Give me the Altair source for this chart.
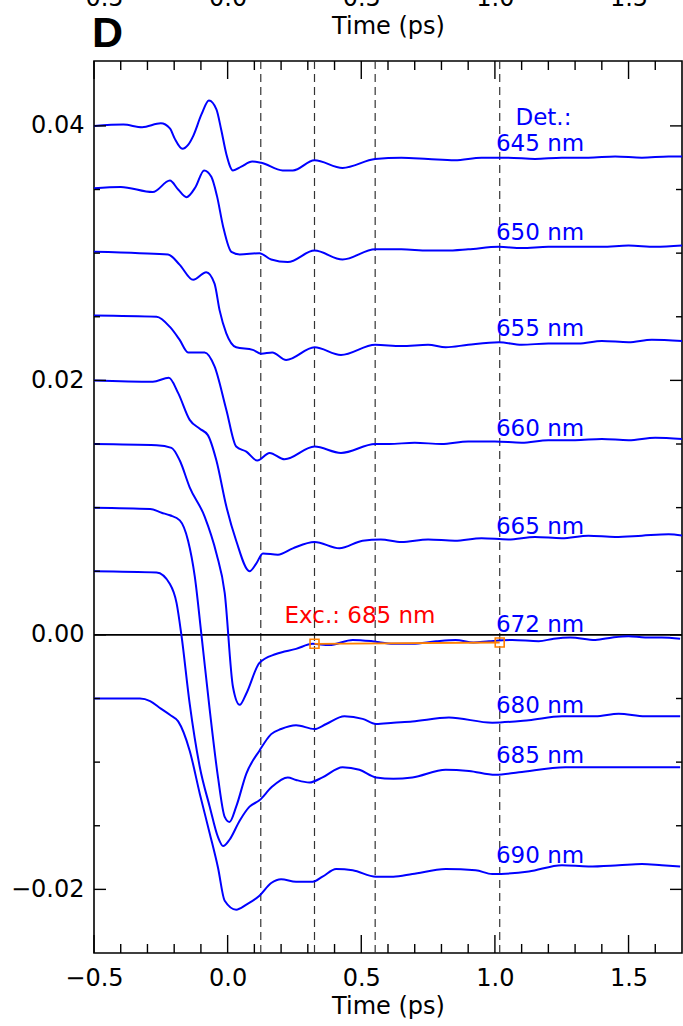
import altair as alt
import pandas as pd

# ---------------- data (time in ps, signal) ----------------
t_645 = [-0.50, -0.39, -0.32, -0.25, -0.216, -0.198, -0.169, -0.148, -0.129, -0.098, -0.07, -0.042, -0.024,
         -0.005, 0.02, 0.051, 0.092, 0.126, 0.206, 0.244, 0.325, 0.43, 0.552, 0.65, 0.75, 0.85, 0.95, 1.05,
         1.15, 1.25, 1.35, 1.45, 1.55, 1.65, 1.7]
v_645 = [0.0400, 0.0401, 0.0399, 0.0402, 0.0398, 0.0390, 0.0382, 0.0385, 0.0392, 0.0409, 0.0420, 0.0413, 0.0397,
         0.0378, 0.0365, 0.0368, 0.0372, 0.0371, 0.0365, 0.0365, 0.0373, 0.0367, 0.0374, 0.0375, 0.0374, 0.0373,
         0.0375, 0.0375, 0.0374, 0.0375, 0.0375, 0.0376, 0.0375, 0.0376, 0.0376]

t_650 = [-0.50, -0.40, -0.28, -0.216, -0.185, -0.154, -0.12, -0.088, -0.061, -0.04, -0.017, 0.014, 0.045,
         0.119, 0.163, 0.225, 0.325, 0.43, 0.552, 0.65, 0.75, 0.816, 0.90, 1.015, 1.1, 1.2, 1.313, 1.4, 1.5,
         1.6, 1.7]
v_650 = [0.0351, 0.0352, 0.0348, 0.0357, 0.0350, 0.0344, 0.0352, 0.0365, 0.0360, 0.0345, 0.0321, 0.0301, 0.0299,
         0.0300, 0.0295, 0.0293, 0.0302, 0.0295, 0.0303, 0.0303, 0.0302, 0.0302, 0.0303, 0.0305, 0.0304, 0.0305,
         0.0305, 0.0305, 0.0306, 0.0305, 0.0306]

t_655 = [-0.50, -0.33, -0.223, -0.18, -0.129, -0.08, -0.049, -0.03, -0.005, 0.032, 0.094, 0.126, 0.167, 0.219,
         0.325, 0.424, 0.552, 0.65, 0.75, 0.816, 0.9, 1.015, 1.1, 1.2, 1.313, 1.4, 1.5, 1.587, 1.7]
v_655 = [0.0301, 0.0300, 0.0299, 0.0291, 0.0279, 0.0285, 0.0276, 0.0255, 0.0237, 0.0226, 0.0224, 0.0221, 0.0222,
         0.0216, 0.0226, 0.0220, 0.0228, 0.0227, 0.0228, 0.0226, 0.0228, 0.0230, 0.0228, 0.0229, 0.0229, 0.0231,
         0.0230, 0.0232, 0.0231]

t_660 = [-0.50, -0.266, -0.216, -0.18, -0.148, -0.086, -0.049, -0.005, 0.032, 0.07, 0.111, 0.157, 0.213, 0.325,
         0.424, 0.552, 0.604, 0.7, 0.8, 0.9, 1.0, 1.1, 1.2, 1.3, 1.4, 1.5, 1.6, 1.7]
v_660 = [0.0251, 0.0250, 0.0242, 0.0232, 0.0222, 0.0222, 0.0211, 0.0177, 0.0148, 0.0144, 0.0137, 0.0143, 0.0138,
         0.0148, 0.0143, 0.0150, 0.0150, 0.0151, 0.0150, 0.0152, 0.0152, 0.0151, 0.0153, 0.0153, 0.0154, 0.0153,
         0.0155, 0.0154]

t_665 = [-0.50, -0.28, -0.22, -0.185, -0.142, -0.104, -0.074, -0.042, -0.005, 0.032, 0.082, 0.107, 0.132, 0.188,
         0.244, 0.325, 0.418, 0.505, 0.573, 0.65, 0.75, 0.85, 0.95, 1.05, 1.15, 1.25, 1.35, 1.45, 1.55, 1.65, 1.7]
v_665 = [0.0200, 0.0199, 0.0202, 0.0190, 0.0169, 0.0162, 0.0157, 0.0137, 0.0101, 0.0074, 0.0050, 0.0056, 0.0064,
         0.0063, 0.0068, 0.0073, 0.0068, 0.0074, 0.0075, 0.0073, 0.0075, 0.0074, 0.0076, 0.0075, 0.0077, 0.0076,
         0.0078, 0.0077, 0.0078, 0.0079, 0.0078]

t_672 = [-0.50, -0.266, -0.21, -0.179, -0.142, -0.086, -0.042, -0.011, 0.02, 0.045, 0.07, 0.119, 0.181, 0.256,
         0.318, 0.38, 0.468, 0.542, 0.62, 0.691, 0.78, 0.853, 0.92, 0.978, 1.065, 1.164, 1.22, 1.282, 1.376,
         1.44, 1.5, 1.562, 1.624, 1.693]
v_672 = [0.0150, 0.0149, 0.0147, 0.0137, 0.0116, 0.0093, 0.0064, 0.0033, -0.0041, -0.0055, -0.0046, -0.0022,
         -0.0015, -0.0011, -0.0007, -0.0008, -0.0004, -0.0005, -0.0007, -0.0007, -0.0005, -0.0004, -0.0006,
         -0.0005, -0.0004, -0.0005, -0.0003, -0.0002, -0.0004, -0.0002, -0.0001, -0.0002, -0.0002, -0.0003]

t_680 = [-0.50, -0.29, -0.247, -0.216, -0.179, -0.148, -0.123, -0.098, -0.067, -0.036, -0.011, 0.007, 0.032,
         0.07, 0.119, 0.163, 0.20, 0.256, 0.325, 0.369, 0.437, 0.505, 0.555, 0.62, 0.691, 0.828, 0.99, 1.127,
         1.251, 1.376, 1.463, 1.562, 1.693]
v_680 = [0.0100, 0.0099, 0.0096, 0.0094, 0.0090, 0.0074, 0.0046, 0.0000, -0.0059, -0.0112, -0.0143, -0.0147,
         -0.0135, -0.0109, -0.0091, -0.0078, -0.0074, -0.0071, -0.0074, -0.0070, -0.0064, -0.0066, -0.0070,
         -0.0069, -0.0068, -0.0065, -0.0069, -0.0067, -0.0064, -0.0064, -0.0062, -0.0064, -0.0064]

t_685 = [-0.50, -0.266, -0.216, -0.191, -0.173, -0.142, -0.104, -0.067, -0.036, -0.017, 0.007, 0.045, 0.082,
         0.119, 0.163, 0.225, 0.256, 0.306, 0.355, 0.43, 0.493, 0.555, 0.62, 0.691, 0.816, 0.903, 1.002, 1.09,
         1.264, 1.438, 1.562, 1.693]
v_685 = [0.0050, 0.0049, 0.0040, 0.0025, 0.0000, -0.0054, -0.0104, -0.0135, -0.0159, -0.0166, -0.0161, -0.0146,
         -0.0135, -0.0130, -0.0120, -0.0112, -0.0114, -0.0116, -0.0112, -0.0104, -0.0106, -0.0112, -0.0113,
         -0.0112, -0.0106, -0.0107, -0.0110, -0.0108, -0.0104, -0.0104, -0.0104, -0.0104]

t_690 = [-0.50, -0.328, -0.29, -0.25, -0.215, -0.185, -0.142, -0.104, -0.067, -0.036, -0.011, 0.032, 0.07, 0.119,
         0.163, 0.20, 0.256, 0.318, 0.355, 0.406, 0.468, 0.555, 0.62, 0.691, 0.816, 0.928, 0.99, 1.127, 1.251,
         1.35, 1.463, 1.55, 1.624, 1.693]
v_690 = [-0.0050, -0.0050, -0.0052, -0.0058, -0.0063, -0.0068, -0.0091, -0.0125, -0.0156, -0.0183, -0.0209,
         -0.0216, -0.0212, -0.0205, -0.0195, -0.0192, -0.0194, -0.0194, -0.0190, -0.0184, -0.0185, -0.0190,
         -0.0190, -0.0188, -0.0184, -0.0185, -0.0188, -0.0186, -0.0181, -0.0182, -0.0181, -0.0180, -0.0181,
         -0.0182]

series_names = ["645 nm", "650 nm", "655 nm", "660 nm", "665 nm", "672 nm", "680 nm", "685 nm", "690 nm"]
series_t = [t_645, t_650, t_655, t_660, t_665, t_672, t_680, t_685, t_690]
series_v = [v_645, v_650, v_655, v_660, v_665, v_672, v_680, v_685, v_690]

# label anchors (data coordinates)
label_t = [1.004] * 9
label_v = [0.0386, 0.0316, 0.0240, 0.0162, 0.0085, 0.0008, -0.0056, -0.0095, -0.0174]
det_text, det_t, det_v = "Det.:", 1.077, 0.0406
exc_text, exc_t_lbl, exc_v_lbl = "Exc.: 685 nm", 0.213, 0.0015

# excitation segment (orange)
exc_t = [0.325, 1.018]
exc_v = [-0.0007, -0.0006]

# dashed guide times
dash_t = [0.124, 0.325, 0.552, 1.018]

# ticks
x_major = [-0.5, 0.0, 0.5, 1.0, 1.5]
x_minor = [-0.4, -0.3, -0.2, -0.1, 0.1, 0.2, 0.3, 0.4, 0.6, 0.7, 0.8, 0.9, 1.1, 1.2, 1.3, 1.4, 1.6]
y_major = [-0.02, 0.0, 0.02, 0.04]
y_minor = [-0.015, -0.01, -0.005, 0.005, 0.01, 0.015, 0.025, 0.03, 0.035]

# ---------------- chart ----------------
rows = []
for name, ts, vs in zip(series_names, series_t, series_v):
    for t, v in zip(ts, vs):
        rows.append({"series": name, "t": t, "v": v})
df = pd.DataFrame(rows)

W, H = 588, 892
FONT = "DejaVu Sans"
BLUE = "#0000FF"
ORANGE = "#FF8000"
xs = alt.Scale(domain=[-0.5, 1.7], nice=False, zero=False)
ys = alt.Scale(domain=[-0.025, 0.0451], nice=False, zero=False)

x_bottom_axis = alt.Axis(orient="bottom", values=x_major, format=".1f", ticks=False, domain=False, grid=False,
                         labelFont=FONT, labelFontSize=24, labelColor="black", labelPadding=13,
                         labelFlush=False, labelOverlap=False,
                         title="Time (ps)", titleFont=FONT, titleFontSize=24, titleFontWeight="normal",
                         titleColor="black", titleY=60, titleBaseline="alphabetic")
y_left_axis = alt.Axis(orient="left", values=y_major, format=".2f", ticks=False, domain=False, grid=False,
                       labelFont=FONT, labelFontSize=24, labelColor="black", labelPadding=10,
                       labelFlush=False, labelOverlap=False, title=None)
x_top_axis = alt.Axis(orient="top", values=x_major, format=".1f", ticks=False, domain=False, grid=False,
                      labelFont=FONT, labelFontSize=24, labelColor="black", labelPadding=51,
                      labelFlush=False, labelOverlap=False,
                      title="Time (ps)", titleFont=FONT, titleFontSize=24, titleFontWeight="normal",
                      titleColor="black", titleY=-28, titleBaseline="alphabetic")

dashes = alt.Chart(pd.DataFrame({"t": dash_t})).mark_rule(
    strokeDash=[8, 5], color="#333333", strokeWidth=1.2
).encode(x=alt.X("t:Q", scale=xs, axis=None))

zero = alt.Chart(pd.DataFrame({"v": [0.0]})).mark_rule(color="black", strokeWidth=1.6).encode(
    y=alt.Y("v:Q", scale=ys, axis=None))

lines = alt.Chart(df).mark_line(color=BLUE, strokeWidth=2, interpolate="monotone", clip=True).encode(
    x=alt.X("t:Q", scale=xs, axis=x_bottom_axis),
    y=alt.Y("v:Q", scale=ys, axis=y_left_axis),
    detail="series:N",
)

exc_df = pd.DataFrame({"t": exc_t, "v": exc_v})
exc_line = alt.Chart(exc_df).mark_line(color=ORANGE, strokeWidth=1.8).encode(
    x=alt.X("t:Q", scale=xs, axis=None), y=alt.Y("v:Q", scale=ys, axis=None))
exc_pts = alt.Chart(exc_df).mark_point(shape="square", filled=False, color=ORANGE, size=80, strokeWidth=1.6,
                                       opacity=1).encode(
    x=alt.X("t:Q", scale=xs, axis=None), y=alt.Y("v:Q", scale=ys, axis=None))

lbl_df = pd.DataFrame({"t": label_t + [det_t], "v": label_v + [det_v], "s": series_names + [det_text]})
labels = alt.Chart(lbl_df).mark_text(font=FONT, fontSize=23, color=BLUE, align="left", baseline="middle").encode(
    x=alt.X("t:Q", scale=xs, axis=None), y=alt.Y("v:Q", scale=ys, axis=None), text="s:N")

exc_lbl = alt.Chart(pd.DataFrame({"t": [exc_t_lbl], "v": [exc_v_lbl], "s": [exc_text]})).mark_text(
    font=FONT, fontSize=23, color="#FF0000", align="left", baseline="middle").encode(
    x=alt.X("t:Q", scale=xs, axis=None), y=alt.Y("v:Q", scale=ys, axis=None), text="s:N")

top_axis = alt.Chart(pd.DataFrame({"t": x_major})).mark_point(opacity=0).encode(
    x=alt.X("t:Q", scale=xs, axis=x_top_axis), y=alt.value(0))


def xticks(values, length):
    d = pd.DataFrame({"t": values})
    bottom = alt.Chart(d).mark_rule(color="black", strokeWidth=1.4).encode(
        x=alt.X("t:Q", scale=xs, axis=None), y=alt.value(H), y2=alt.value(H - length))
    top = alt.Chart(d).mark_rule(color="black", strokeWidth=1.4).encode(
        x=alt.X("t:Q", scale=xs, axis=None), y=alt.value(0), y2=alt.value(length))
    return [bottom, top]


def yticks(values, length):
    d = pd.DataFrame({"v": values})
    left = alt.Chart(d).mark_rule(color="black", strokeWidth=1.4).encode(
        y=alt.Y("v:Q", scale=ys, axis=None), x=alt.value(0), x2=alt.value(length))
    right = alt.Chart(d).mark_rule(color="black", strokeWidth=1.4).encode(
        y=alt.Y("v:Q", scale=ys, axis=None), x=alt.value(W), x2=alt.value(W - length))
    return [left, right]


panel = alt.Chart(pd.DataFrame({"s": ["D"]})).mark_text(
    font="Liberation Sans", fontSize=43, fontWeight="bold", color="black", align="left", baseline="alphabetic"
).encode(text="s:N", x=alt.value(-2), y=alt.value(-14))

ticks = xticks(x_major, 18) + xticks(x_minor, 9) + yticks(y_major, 12) + yticks(y_minor, 6)

chart = alt.layer(
    dashes, zero, lines, exc_line, exc_pts, labels, exc_lbl, top_axis, panel, *ticks
).resolve_axis(x="independent", y="independent").properties(
    width=W, height=H,
    padding={"left": 94, "top": 61, "right": 1, "bottom": 73},
    autosize=alt.AutoSizeParams(type="none"),
    background="white",
).configure_view(stroke="black", strokeWidth=1.6)

chart.save("out.html", embed_options={"renderer": "svg", "actions": False})
